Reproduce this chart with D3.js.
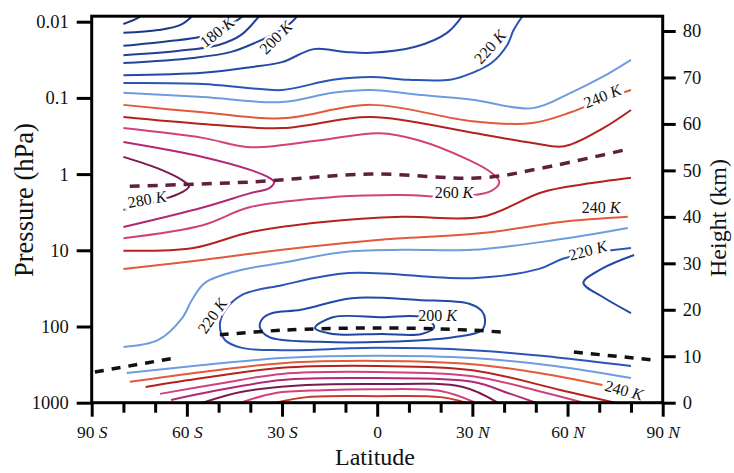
<!DOCTYPE html>
<html>
<head>
<meta charset="utf-8">
<script src="https://cdn.jsdelivr.net/npm/d3@7"></script>
<style>
body { margin: 0; background: #fff; }
svg { display: block; font-family: "Liberation Serif", "Times New Roman", serif; }
</style>
</head>
<body>
<svg id="chart" width="734" height="473"></svg>
<script>
// isotherms, each point is [latitude (deg), height (km)]
var t160 = [[-80, 81.5], [-76, 82.6], [-74, 83.4]];
var t170 = [[-80, 79.6], [-69, 80.2], [-62, 81.3], [-58, 83.4]];
var t180 = [[-80, 76.8], [-66, 77.8], [-56, 78.7], [-50, 80.2], [-45, 81.9], [-42, 83.4]];
var t190 = [[-80, 74.8], [-63, 75.7], [-50, 77.0], [-43, 79.1], [-37, 83.4]];
var t200 = [[-80, 73.1], [-58, 74.2], [-46, 75.5], [-38, 77.6], [-32, 79.6], [-27, 81.9], [-25, 83.4]];
var t210 = [[-80, 70.5], [-55, 71.0], [-40, 72.2], [-30, 73.3], [-20, 76.1], [-10, 75.5], [-2, 75.3], [12, 76.6], [22, 79.6], [27, 83.4]];
var t220 = [[-80, 68.8], [-55, 68.6], [-40, 67.7], [-30, 67.3], [-14, 69.5], [-2, 70.1], [10, 69.5], [23, 69.5], [30, 71.0], [36, 73.1], [41, 77.0], [43, 80.2], [46, 83.4]];
var t230 = [[-80, 66.7], [-55, 65.8], [-30, 64.7], [-14, 66.7], [-2, 67.3], [14, 66.2], [30, 65.2], [49, 63.4], [61, 66.7], [71, 70.1], [80, 73.8]];
var t240 = [[-80, 64.1], [-55, 62.5], [-30, 61.2], [-2, 64.1], [30, 60.6], [49, 60.2], [61, 62.5], [71, 65.2], [80, 67.3]];
var t250 = [[-80, 61.5], [-55, 60.0], [-30, 59.1], [-2, 61.5], [30, 58.1], [49, 55.9], [59, 55.2], [71, 59.0], [80, 63.0]];
var t260 = [[-80, 59.1], [-55, 57.0], [-40, 55.0], [-18, 56.5], [0.6, 58.0], [13, 56.5], [29, 52.2], [36, 49.5], [38.5, 47.5],
            [36, 45.6], [24, 44.3], [8, 44.7], [-13, 44.3], [-40, 42.1], [-55, 38.2], [-80, 35.4]];
var t270 = [[-80, 56.1], [-55, 52.9], [-40, 50.1], [-34, 48.4], [-32.5, 47.5], [-34, 46.2], [-40, 45.1], [-55, 42.0], [-80, 37.8]];
var t280 = [[-80, 52.9], [-68, 50.1], [-61.5, 47.9], [-59.3, 46.6], [-61.5, 45.3], [-68, 43.6], [-80, 41.5]];
// below the stratopause
var t250b = [[-80, 32.7], [-58, 33.3], [-40, 36.7], [-17, 38.9], [8, 40.0], [33, 40.0], [52, 45.3], [65, 47.0], [80, 48.4]];
var t240b = [[-80, 28.8], [-55, 30.7], [-30, 32.9], [0, 35.0], [33, 36.5], [58, 38.9], [79, 40.0]];
var t230b = [[-80, 12.0], [-69, 13.5], [-61.5, 18.2], [-58.4, 22.1], [-54.3, 25.8], [-42.6, 28.6], [-30, 30.1], [-11, 32.4], [8, 32.9], [30, 32.9], [56, 35.0], [79, 37.6]];
var t220b = [[80, 33.3], [59, 31.1], [51, 28.8], [30, 26.8], [-9, 27.9], [-30, 25.3], [-42.6, 23.2], [-48, 19.8], [-49.6, 16.7],
             [-48, 13.5], [-42.6, 11.8], [-30, 11.3], [0, 11.8], [30, 11.3], [56, 9.8], [80, 7.9]];
var t210v = [[81, 31.8], [71, 28.9], [65, 25.8], [71, 22.8], [80, 19.3]];
var t210ring = [[-33, 19.3], [-24, 20.0], [-8, 22.5], [13, 22.1], [29, 21.3], [33, 19.7], [34, 17.9], [33, 15.6], [24, 14.1],
                [2.5, 13.1], [-18, 13.1], [-34, 14.1], [-37, 16.3], [-36, 18.2]];
var t200ring = [[-19.6, 16.1], [-14, 18.4], [1.5, 18.4], [14, 18.4], [18, 16.3], [14, 14.8], [1.5, 14.8], [-14, 14.8]];
// troposphere
var t230c = [[-79, 6.4], [-55, 8.1], [-30, 9.6], [0, 10.1], [30, 9.6], [56, 7.9], [80, 5.3]];
var t240c = [[-78, 4.5], [-55, 6.6], [-30, 8.5], [0, 9.0], [30, 8.3], [51, 6.4], [71, 3.8]];
var t250c = [[-73, 3.4], [-55, 5.3], [-30, 7.5], [0, 7.9], [30, 7.0], [58, 2.7], [75, 0]];
var t260c = [[-68.5, 1.9], [-49, 4.2], [-30, 6.2], [0, 6.6], [30, 5.7], [52, 2.3], [65, 0]];
var t270c = [[-65, 0.6], [-46, 3.2], [-30, 4.9], [0, 5.3], [30, 4.5], [42, 1.9], [50, 0]];
var t280c = [[-55, 0], [-43, 2.3], [-27, 3.6], [0, 4.0], [27, 3.4], [38, 0]];
var t290c = [[-43, 0], [-32, 2.1], [-17, 2.7], [0, 2.9], [20, 2.5], [31, 0]];
var t300c = [[-32, 0], [-22, 1.2], [0, 1.4], [20, 1.2], [28, 0]];

// stratopause and tropopause
var stratopause = [[-78, 46.6], [-40, 47.5], [-2, 49.2], [33, 48.4], [52, 50.5], [78, 54.4]];
var tropopauseTropics = [[-49.6, 14.6], [-30, 15.6], [0, 16.1], [30, 15.6], [39, 15.2]];
var tropopauseSouth = [[-89, 6.6], [-64, 9.6]];
var tropopauseNorth = [[62, 10.9], [87, 9.2]];

// contour labels: [lat, km, kelvin, angle]
var contourLabels = [
    [-50.5, 79.8, 180, -38], [-32, 78.6, 200, -45], [35.5, 76.6, 220, -48], [71, 66.0, 240, -22],
    [-72.6, 43.8, 280, -10], [24.2, 45.2, 260, 0], [70.6, 42.0, 240, 0], [66.4, 32.8, 220, -15],
    [-52, 18.7, 220, -55], [19, 18.8, 200, 0], [77.8, 2.7, 240, 15]
];

var pressureTicks = [0.01, 0.1, 1, 10, 100, 1000];
var heightTicks = [0, 10, 20, 30, 40, 50, 60, 70, 80];
var latMajor = [-90, -60, -30, 0, 30, 60, 90];
var latMinor = [-80, -70, -50, -40, -20, -10, 10, 20, 40, 50, 70, 80];

var isotherms = [
    [160, t160], [170, t170], [180, t180], [190, t190], [200, t200], [210, t210], [220, t220], [230, t230],
    [240, t240], [250, t250], [260, t260], [270, t270], [280, t280],
    [250, t250b], [240, t240b], [230, t230b], [220, t220b], [210, t210v],
    [230, t230c], [240, t240c], [250, t250c], [260, t260c], [270, t270c], [280, t280c], [290, t290c], [300, t300c]
];
var rings = [[210, t210ring], [200, t200ring]];

var colorOf = {
    160: "#1b357e", 170: "#1c3886", 180: "#1d3c8c", 190: "#1f4094", 200: "#21449c",
    210: "#2349a6", 220: "#2a55b6", 230: "#6e9ddf", 240: "#e3593b", 250: "#b3221e",
    260: "#d2417c", 270: "#b12878", 280: "#771c4c", 290: "#d2417c", 300: "#c7382a"
};

var svg = d3.select("#chart");
var pLeft = 91.7, pRight = 662.7, pTop = 16.2, pBottom = 402.7;

var x = d3.scaleLinear().domain([-90, 90]).range([pLeft, pRight]);
var yKm = d3.scaleLinear().domain([0, 80]).range([pBottom, 31]);
var yHpa = d3.scaleLog().domain([1000, 0.01]).range([pBottom, 21.7]);

svg.append("clipPath").attr("id", "plot")
    .append("rect")
    .attr("x", pLeft).attr("y", pTop)
    .attr("width", pRight - pLeft).attr("height", pBottom - pTop);

var plot = svg.append("g").attr("clip-path", "url(#plot)");

var line = d3.line()
    .x(function (d) { return x(d[0]); })
    .y(function (d) { return yKm(d[1]); })
    .curve(d3.curveCatmullRom.alpha(0.5));

var ring = d3.line()
    .x(function (d) { return x(d[0]); })
    .y(function (d) { return yKm(d[1]); })
    .curve(d3.curveCatmullRomClosed.alpha(0.5));

plot.selectAll(".iso")
    .data(isotherms)
    .enter().append("path")
    .attr("class", "iso")
    .attr("d", function (d) { return line(d[1]); })
    .attr("fill", "none")
    .attr("stroke", function (d) { return colorOf[d[0]]; })
    .attr("stroke-width", 2);

plot.selectAll(".ring")
    .data(rings)
    .enter().append("path")
    .attr("class", "ring")
    .attr("d", function (d) { return ring(d[1]); })
    .attr("fill", "none")
    .attr("stroke", function (d) { return colorOf[d[0]]; })
    .attr("stroke-width", 2);

// dashed pauses
plot.append("path")
    .attr("d", line(stratopause))
    .attr("fill", "none")
    .attr("stroke", "#5e1f40")
    .attr("stroke-width", 3.5)
    .attr("stroke-dasharray", "10,8");

[tropopauseTropics, tropopauseSouth, tropopauseNorth].forEach(function (p) {
    plot.append("path")
        .attr("d", line(p))
        .attr("fill", "none")
        .attr("stroke", "#111")
        .attr("stroke-width", 3.5)
        .attr("stroke-dasharray", "9,8");
});

// labels with white halo so they break the line
var lab = plot.selectAll(".clabel")
    .data(contourLabels)
    .enter().append("text")
    .attr("class", "clabel")
    .attr("transform", function (d) {
        return "translate(" + x(d[0]) + "," + yKm(d[1]) + ") rotate(" + d[3] + ")";
    })
    .attr("text-anchor", "middle")
    .attr("dy", "0.35em")
    .style("font-size", "16px")
    .attr("stroke", "#fff")
    .attr("stroke-width", 5)
    .attr("paint-order", "stroke")
    .attr("fill", "#111");
lab.append("tspan").text(function (d) { return d[2] + " "; });
lab.append("tspan").style("font-style", "italic").text("K");

// frame
svg.append("rect")
    .attr("x", pLeft).attr("y", pTop)
    .attr("width", pRight - pLeft).attr("height", pBottom - pTop)
    .attr("fill", "none")
    .attr("stroke", "#000")
    .attr("stroke-width", 3);

// axes
var gLeft = svg.append("g")
    .attr("transform", "translate(" + pLeft + ",0)")
    .call(d3.axisLeft(yHpa).tickValues(pressureTicks).tickFormat(d3.format("~g")).tickSize(15).tickPadding(8));

var gRight = svg.append("g")
    .attr("transform", "translate(" + pRight + ",0)")
    .call(d3.axisRight(yKm).tickValues(heightTicks).tickSize(13).tickPadding(7));

var gMinor = svg.append("g")
    .attr("transform", "translate(0," + pBottom + ")")
    .call(d3.axisBottom(x).tickValues(latMinor).tickFormat("").tickSize(10));

var gBottom = svg.append("g")
    .attr("transform", "translate(0," + pBottom + ")")
    .call(d3.axisBottom(x).tickValues(latMajor).tickSize(14).tickPadding(9));

gBottom.selectAll(".tick text").each(function (d) {
    var t = d3.select(this).text("");
    t.append("tspan").text(Math.abs(d));
    if (d !== 0) {
        t.append("tspan").style("font-style", "italic").text(" " + (d < 0 ? "S" : "N"));
    }
});

[gLeft, gRight, gMinor, gBottom].forEach(function (g) {
    g.select(".domain").remove();
    g.selectAll(".tick line").attr("stroke", "#000").attr("stroke-width", 3);
    g.selectAll(".tick text")
        .attr("fill", "#111")
        .style("font-family", "'Liberation Serif', 'Times New Roman', serif")
        .style("font-size", "18.5px");
});
gBottom.selectAll(".tick text").style("font-size", "17.5px");

// axis titles
svg.append("text")
    .attr("transform", "translate(33,277) rotate(-90)")
    .attr("text-anchor", "start")
    .style("font-size", "26.5px")
    .attr("fill", "#111")
    .text("Pressure (hPa)");

svg.append("text")
    .attr("transform", "translate(726,277) rotate(-90)")
    .attr("text-anchor", "start")
    .style("font-size", "24px")
    .attr("fill", "#111")
    .text("Height (km)");

svg.append("text")
    .attr("x", 375).attr("y", 465)
    .attr("text-anchor", "middle")
    .style("font-size", "24px")
    .attr("fill", "#111")
    .text("Latitude");
</script>
</body>
</html>
